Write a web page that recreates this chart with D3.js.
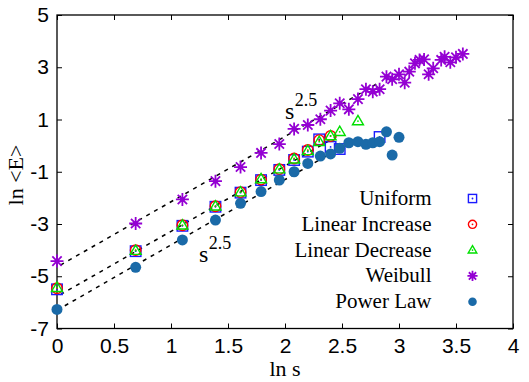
<!DOCTYPE html>
<html lang="en">
  <head>
    <meta charset="UTF-8" />
    <title>ln E vs ln s</title>
    <style>
      body {
        margin: 0;
        background: #fff;
      }
      .tick text {
        font-family: "Liberation Sans", Arial, sans-serif;
        font-size: 21px;
        fill: #000;
      }
      .tick line {
        stroke: #000;
        stroke-width: 1;
      }
      .serif {
        font-family: "Liberation Serif", "Times New Roman", serif;
        fill: #000;
      }
    </style>
    <script src="https://cdn.jsdelivr.net/npm/d3@7"></script>
  </head>
  <body>
    <div class="chart-box"></div>
    <script>
      // values (x = ln s, y = ln <E>)
      const uniformX = [0, 0.69, 1.1, 1.39, 1.61, 1.79, 1.95, 2.08, 2.2, 2.3, 2.4, 2.48, 2.83];
      const uniformY = [-5.5, -4.04, -3.07, -2.34, -1.8, -1.32, -0.93, -0.55, -0.23, 0.24, -0.05, -0.13, 0.33];

      const linIncX = [0, 0.69, 1.1, 1.39, 1.61, 1.79, 1.95, 2.08, 2.2, 2.3, 2.4];
      const linIncY = [-5.46, -4.0, -3.05, -2.32, -1.78, -1.3, -0.9, -0.49, -0.17, 0.21, 0.37];

      const linDecX = [0, 0.69, 1.1, 1.39, 1.61, 1.79, 1.95, 2.08, 2.2, 2.3, 2.4, 2.48, 2.64];
      const linDecY = [-5.44, -4.02, -3.05, -2.32, -1.78, -1.28, -0.9, -0.52, -0.2, 0.15, 0.37, 0.53, 0.94];

      const weibullX = [0, 0.69, 1.1, 1.39, 1.61, 1.79, 1.95, 2.08, 2.2, 2.31, 2.4, 2.48, 2.56, 2.64, 2.71, 2.77,
        2.83, 2.89, 2.94, 3.0, 3.05, 3.09, 3.14, 3.18, 3.22, 3.26, 3.3, 3.37, 3.4, 3.45, 3.5, 3.56];
      const weibullY = [-4.42, -2.98, -2.06, -1.36, -0.82, -0.28, 0.06, 0.64, 0.79, 1.01, 1.34, 1.62, 1.39, 1.78, 2.16, 2.06,
        2.16, 2.64, 2.54, 2.73, 2.41, 2.83, 3.15, 3.28, 3.3, 2.73, 2.96, 3.28, 3.4, 3.19, 3.38, 3.51];

      const powerX = [0, 0.69, 1.1, 1.39, 1.61, 1.79, 1.95, 2.08, 2.2, 2.31, 2.4, 2.48, 2.56, 2.64, 2.71, 2.77, 2.83, 2.89, 2.94, 3.0];
      const powerY = [-6.27, -4.66, -3.61, -2.85, -2.21, -1.76, -1.32, -1.0, -0.68, -0.4, -0.32, -0.1, 0.11, 0.15, 0.05, 0.11, 0.15, 0.53, -0.36, 0.32];

      // s^2.5 guide lines: intercept, start and end in ln s
      const fitSlope = 2.5;
      const fitIntercept = [-4.65, -5.78, -6.3];
      const fitStart = [0.03, 0.03, 0.0];
      const fitEnd = [2.8, 2.45, 2.42];

      const seriesNames = ["Uniform", "Linear Increase", "Linear Decrease", "Weibull", "Power Law"];
      const xTicks = [0, 0.5, 1, 1.5, 2, 2.5, 3, 3.5, 4];
      const yTicks = [5, 3, 1, -1, -3, -5, -7];

      const W = 529, H = 382;
      const margin = { top: 15, right: 16, bottom: 53.5, left: 57 };

      const svg = d3.select(".chart-box").append("svg")
        .attr("width", W).attr("height", H);

      const x = d3.scaleLinear().domain([0, 4]).range([margin.left, W - margin.right]);
      const y = d3.scaleLinear().domain([-7, 5]).range([H - margin.bottom, margin.top]);

      const fmt = (d) => String(d);

      // axes, ticks pointing inward on all sides
      svg.append("g").attr("transform", `translate(0,${H - margin.bottom})`)
        .call(d3.axisBottom(x).tickValues(xTicks).tickFormat(fmt).tickSizeInner(-5).tickSizeOuter(0).tickPadding(10))
        .call((g) => g.select(".domain").remove());
      svg.append("g").attr("transform", `translate(0,${margin.top})`)
        .call(d3.axisTop(x).tickValues(xTicks).tickFormat("").tickSizeInner(-5).tickSizeOuter(0))
        .call((g) => g.select(".domain").remove());
      svg.append("g").attr("transform", `translate(${margin.left},0)`)
        .call(d3.axisLeft(y).tickValues(yTicks).tickFormat(fmt).tickSizeInner(-5).tickSizeOuter(0).tickPadding(8))
        .call((g) => g.select(".domain").remove());
      svg.append("g").attr("transform", `translate(${W - margin.right},0)`)
        .call(d3.axisRight(y).tickValues(yTicks).tickFormat("").tickSizeInner(-5).tickSizeOuter(0))
        .call((g) => g.select(".domain").remove());

      svg.append("rect")
        .attr("x", x(0)).attr("y", y(5))
        .attr("width", x(4) - x(0)).attr("height", y(-7) - y(5))
        .attr("fill", "none").attr("stroke", "#000").attr("stroke-width", 1.3);

      // dashed guide lines
      fitIntercept.forEach((b, i) => {
        svg.append("line")
          .attr("x1", x(fitStart[i])).attr("y1", y(b + fitSlope * fitStart[i]))
          .attr("x2", x(fitEnd[i])).attr("y2", y(b + fitSlope * fitEnd[i]))
          .attr("stroke", "#000").attr("stroke-width", 1.5)
          .attr("stroke-dasharray", "4,5");
      });

      // marker shapes
      const markers = {
        square: (g, c, s) => {
          g.append("rect").attr("x", -s / 2).attr("y", -s / 2).attr("width", s).attr("height", s)
            .attr("fill", "none").attr("stroke", c).attr("stroke-width", 1.4);
          g.append("circle").attr("r", 0.9).attr("fill", c);
        },
        circle: (g, c, s) => {
          g.append("circle").attr("r", s / 2).attr("fill", "none").attr("stroke", c).attr("stroke-width", 1.4);
          g.append("circle").attr("r", 0.9).attr("fill", c);
        },
        triangle: (g, c, s) => {
          const h = s * 0.85;
          g.append("path").attr("d", `M0,${-h * 0.6}L${s / 2},${h * 0.4}L${-s / 2},${h * 0.4}Z`)
            .attr("fill", "none").attr("stroke", c).attr("stroke-width", 1.4);
          g.append("circle").attr("r", 0.9).attr("fill", c);
        },
        star: (g, c, s) => {
          const r = s / 2, q = r * 0.72;
          g.append("path")
            .attr("d", `M${-r},0H${r}M0,${-r}V${r}M${-q},${-q}L${q},${q}M${-q},${q}L${q},${-q}`)
            .attr("stroke", c).attr("stroke-width", 1.8);
          g.append("circle").attr("r", 2.3).attr("fill", c);
        },
        dot: (g, c, s) => {
          g.append("circle").attr("r", s / 2).attr("fill", c);
        },
      };

      const series = [
        { xs: uniformX, ys: uniformY, shape: "square", color: "#1a1aff", size: 10.5 },
        { xs: linIncX, ys: linIncY, shape: "circle", color: "#ff0000", size: 10.5 },
        { xs: linDecX, ys: linDecY, shape: "triangle", color: "#00e000", size: 11 },
        { xs: weibullX, ys: weibullY, shape: "star", color: "#9400d3", size: 13 },
        { xs: powerX, ys: powerY, shape: "dot", color: "#1a6aa8", size: 11 },
      ];

      series.forEach((s) => {
        s.xs.forEach((xv, i) => {
          const g = svg.append("g").attr("transform", `translate(${x(xv)},${y(s.ys[i])})`);
          markers[s.shape](g, s.color, s.size);
        });
      });

      // s^2.5 labels
      const powLabel = (px, py) => {
        const t = svg.append("text").attr("class", "serif").attr("x", px).attr("y", py);
        t.append("tspan").attr("font-size", 24).text("s");
        t.append("tspan").attr("font-size", 18).attr("dy", -13).attr("dx", 0.5).text("2.5");
      };
      powLabel(285, 118.5);
      powLabel(199, 262);

      // legend
      seriesNames.forEach((name, i) => {
        const ly = 205 + i * 25.8;
        svg.append("text").attr("class", "serif")
          .attr("x", 431.5).attr("y", ly)
          .attr("text-anchor", "end").attr("font-size", 21)
          .text(name);
        const g = svg.append("g").attr("transform", `translate(472.5,${ly - 6.5})`);
        const s = series[i];
        markers[s.shape](g, s.color, s.size * 0.78);
      });

      // axis titles
      svg.append("text").attr("class", "serif")
        .attr("x", 285).attr("y", 376)
        .attr("text-anchor", "middle").attr("font-size", 22)
        .text("ln s");
      svg.append("text").attr("class", "serif")
        .attr("transform", "translate(23,175) rotate(-90)")
        .attr("text-anchor", "middle").attr("font-size", 22)
        .text("ln <E>");
    </script>
  </body>
</html>
